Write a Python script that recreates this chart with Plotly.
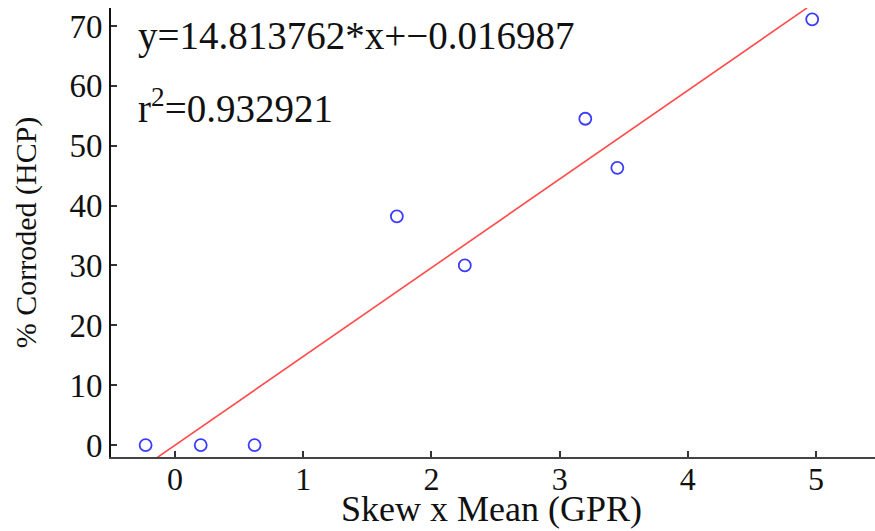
import plotly.graph_objects as go

# Measured samples: skew x mean of GPR amplitude vs. percent corroded
skew_mean = [-0.23, 0.20, 0.62, 1.73, 2.26, 3.20, 3.45, 4.97]
pct_corroded = [0.0, 0.0, 0.0, 38.2, 30.0, 54.5, 46.3, 71.1]

# Least-squares fit reported on the chart
slope = 14.813762
intercept = -0.016987
r_squared = 0.932921
fit_x = [-0.23, 4.93]
fit_y = [slope * v + intercept for v in fit_x]

x_ticks = [0, 1, 2, 3, 4, 5]
y_ticks = [0, 10, 20, 30, 40, 50, 60, 70]

FONT = "Liberation Serif"
INK = "#111111"

fig = go.Figure()
fig.add_trace(go.Scatter(
    x=fit_x, y=fit_y, mode="lines",
    line=dict(color="#ff4a4a", width=1.6),
    hoverinfo="skip", showlegend=False,
))
fig.add_trace(go.Scatter(
    x=skew_mean, y=pct_corroded, mode="markers",
    marker=dict(symbol="circle-open", size=12, color="#3c3cff",
                line=dict(width=1.8, color="#3c3cff")),
    showlegend=False,
))

# Fit equation and goodness of fit, top-left of the axes
fig.add_annotation(
    x=0, y=68.3, xref="paper", yref="y", xanchor="left", yanchor="middle",
    xshift=25, showarrow=False,
    text=f"y={slope:.6f}*x+\u2212{abs(intercept):.6f}",
    font=dict(family=FONT, size=39, color=INK),
)
fig.add_annotation(
    x=0, y=56.6, xref="paper", yref="y", xanchor="left", yanchor="middle",
    xshift=25, showarrow=False,
    text=f"r<sup>2</sup>={r_squared:.6f}",
    font=dict(family=FONT, size=39, color=INK),
)

# x-axis title placed tight under the tick labels
fig.add_annotation(
    x=0.5, y=0, xref="paper", yref="paper", xanchor="center", yanchor="middle",
    xshift=-2, yshift=-52, showarrow=False,
    text="Skew x Mean (GPR)",
    font=dict(family=FONT, size=36, color=INK),
)

fig.update_layout(
    width=875, height=531,
    margin=dict(l=111, r=0, t=8, b=74),
    paper_bgcolor="white", plot_bgcolor="white",
    font=dict(family=FONT, color=INK),
    xaxis=dict(
        range=[-0.5, 5.46], tickvals=x_ticks, ticks="inside", ticklen=6,
        tickwidth=1.5, tickcolor="#333", showline=True, linecolor="#444",
        linewidth=2, showgrid=False, zeroline=False, ticklabelstandoff=-7,
        tickfont=dict(family=FONT, size=32, color=INK),
    ),
    yaxis=dict(
        range=[-2, 73], tickvals=y_ticks, ticks="inside", ticklen=6,
        tickwidth=1.5, tickcolor="#333", showline=True, linecolor=INK,
        linewidth=2, showgrid=False, zeroline=False,
        tickfont=dict(family=FONT, size=33, color=INK),
        title=dict(text="% Corroded (HCP)", standoff=24,
                   font=dict(family=FONT, size=30, color=INK)),
    ),
)

fig.write_html("out.html")
